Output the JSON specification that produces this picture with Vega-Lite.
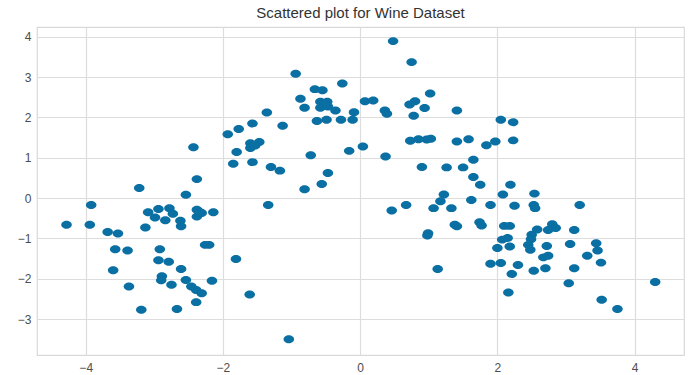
{
  "$schema": "https://vega.github.io/schema/vega-lite/v6.json",
  "autosize": {"type": "none"},
  "padding": {"left": 37, "top": 27, "right": 5, "bottom": 20},
  "width": 647,
  "height": 328,
  "background": "white",
  "title": {"text": "Scattered plot for Wine Dataset", "font": "Liberation Sans", "fontSize": 15, "fontWeight": "normal", "color": "#333333", "anchor": "middle", "offset": 6},
  "config": {
    "view": {"stroke": "#d9d9d9", "strokeWidth": 1.2},
    "axis": {"grid": true, "gridColor": "#dddddd", "gridWidth": 1.2, "domain": false, "ticks": false, "labelFont": "Liberation Sans", "labelFontSize": 12, "labelColor": "#4d4d4d", "title": null}
  },
  "data": {"values": [
    {"pc1": -4.28, "pc2": -0.66}, {"pc1": -3.92, "pc2": -0.17}, {"pc1": -3.94, "pc2": -0.66}, {"pc1": -3.68, "pc2": -0.84},
    {"pc1": -3.53, "pc2": -0.88}, {"pc1": -3.22, "pc2": 0.25}, {"pc1": -2.54, "pc2": 0.08}, {"pc1": -2.38, "pc2": 0.47},
    {"pc1": -3.09, "pc2": -0.35}, {"pc1": -2.94, "pc2": -0.27}, {"pc1": -2.99, "pc2": -0.48}, {"pc1": -2.84, "pc2": -0.55},
    {"pc1": -2.78, "pc2": -0.25}, {"pc1": -2.73, "pc2": -0.39}, {"pc1": -2.62, "pc2": -0.56}, {"pc1": -2.61, "pc2": -0.70},
    {"pc1": -3.13, "pc2": -0.73}, {"pc1": -2.38, "pc2": -0.29}, {"pc1": -2.38, "pc2": -0.46}, {"pc1": -2.31, "pc2": -0.37},
    {"pc1": -2.14, "pc2": -0.35}, {"pc1": -2.35, "pc2": -0.33}, {"pc1": -3.57, "pc2": -1.27}, {"pc1": -3.39, "pc2": -1.30},
    {"pc1": -2.92, "pc2": -1.27}, {"pc1": -2.94, "pc2": -1.54}, {"pc1": -2.79, "pc2": -1.58}, {"pc1": -2.61, "pc2": -1.76},
    {"pc1": -3.60, "pc2": -1.79}, {"pc1": -2.89, "pc2": -1.94}, {"pc1": -2.90, "pc2": -2.04}, {"pc1": -2.75, "pc2": -2.15},
    {"pc1": -2.54, "pc2": -2.03}, {"pc1": -2.46, "pc2": -2.19}, {"pc1": -2.39, "pc2": -2.28}, {"pc1": -2.31, "pc2": -2.36},
    {"pc1": -2.16, "pc2": -2.05}, {"pc1": -3.37, "pc2": -2.19}, {"pc1": -2.39, "pc2": -2.58}, {"pc1": -3.19, "pc2": -2.77},
    {"pc1": -2.67, "pc2": -2.75}, {"pc1": -2.26, "pc2": -1.16}, {"pc1": -2.20, "pc2": -1.16}, {"pc1": -1.81, "pc2": -1.51},
    {"pc1": -1.61, "pc2": -2.39}, {"pc1": -1.04, "pc2": -3.50}, {"pc1": -1.34, "pc2": -0.17}, {"pc1": -0.81, "pc2": 0.22},
    {"pc1": -0.56, "pc2": 0.35}, {"pc1": -0.47, "pc2": 0.62}, {"pc1": 0.46, "pc2": -0.31}, {"pc1": 0.67, "pc2": -0.17},
    {"pc1": -0.94, "pc2": 3.08}, {"pc1": -0.26, "pc2": 2.84}, {"pc1": -0.66, "pc2": 2.70}, {"pc1": -0.55, "pc2": 2.67},
    {"pc1": -0.87, "pc2": 2.46}, {"pc1": -0.81, "pc2": 2.24}, {"pc1": -0.58, "pc2": 2.39}, {"pc1": -0.48, "pc2": 2.39},
    {"pc1": -0.58, "pc2": 2.24}, {"pc1": -0.47, "pc2": 2.27}, {"pc1": -0.52, "pc2": 2.32}, {"pc1": -0.36, "pc2": 2.17},
    {"pc1": -0.09, "pc2": 2.13}, {"pc1": -1.36, "pc2": 2.12}, {"pc1": -0.63, "pc2": 1.91}, {"pc1": -0.49, "pc2": 1.94},
    {"pc1": -0.28, "pc2": 1.94}, {"pc1": -0.11, "pc2": 1.94}, {"pc1": -1.57, "pc2": 1.85}, {"pc1": -1.77, "pc2": 1.71},
    {"pc1": -1.93, "pc2": 1.58}, {"pc1": -1.13, "pc2": 1.79}, {"pc1": -2.43, "pc2": 1.26}, {"pc1": -1.60, "pc2": 1.36},
    {"pc1": -1.47, "pc2": 1.39}, {"pc1": -1.60, "pc2": 1.24}, {"pc1": -1.53, "pc2": 1.30}, {"pc1": -1.80, "pc2": 1.14},
    {"pc1": -0.72, "pc2": 1.06}, {"pc1": -0.16, "pc2": 1.17}, {"pc1": 0.04, "pc2": 1.28}, {"pc1": -1.85, "pc2": 0.85},
    {"pc1": -1.57, "pc2": 0.89}, {"pc1": -1.30, "pc2": 0.77}, {"pc1": -1.17, "pc2": 0.68}, {"pc1": 0.48, "pc2": 3.89},
    {"pc1": 0.75, "pc2": 3.37}, {"pc1": 1.02, "pc2": 2.59}, {"pc1": 0.80, "pc2": 2.40}, {"pc1": 0.72, "pc2": 2.32},
    {"pc1": 0.94, "pc2": 2.23}, {"pc1": 0.78, "pc2": 2.04}, {"pc1": 0.07, "pc2": 2.40}, {"pc1": 0.19, "pc2": 2.42},
    {"pc1": 0.36, "pc2": 2.17}, {"pc1": 0.39, "pc2": 2.09}, {"pc1": 1.41, "pc2": 2.17}, {"pc1": 2.05, "pc2": 1.94},
    {"pc1": 2.23, "pc2": 1.88}, {"pc1": 0.73, "pc2": 1.42}, {"pc1": 0.85, "pc2": 1.46}, {"pc1": 0.97, "pc2": 1.45},
    {"pc1": 1.03, "pc2": 1.47}, {"pc1": 1.41, "pc2": 1.40}, {"pc1": 1.58, "pc2": 1.46}, {"pc1": 1.84, "pc2": 1.31},
    {"pc1": 1.97, "pc2": 1.40}, {"pc1": 2.23, "pc2": 1.43}, {"pc1": 0.37, "pc2": 1.03}, {"pc1": 0.90, "pc2": 0.77},
    {"pc1": 1.65, "pc2": 0.95}, {"pc1": 1.26, "pc2": 0.76}, {"pc1": 1.50, "pc2": 0.76}, {"pc1": 1.65, "pc2": 0.52},
    {"pc1": 1.75, "pc2": 0.33}, {"pc1": 2.19, "pc2": 0.33}, {"pc1": 1.22, "pc2": 0.09}, {"pc1": 2.08, "pc2": 0.09},
    {"pc1": 2.54, "pc2": 0.11}, {"pc1": 1.17, "pc2": -0.08}, {"pc1": 1.07, "pc2": -0.25}, {"pc1": 1.33, "pc2": -0.25},
    {"pc1": 1.62, "pc2": -0.05}, {"pc1": 1.90, "pc2": -0.17}, {"pc1": 2.25, "pc2": -0.19}, {"pc1": 2.53, "pc2": -0.17},
    {"pc1": 2.55, "pc2": -0.25}, {"pc1": 3.20, "pc2": -0.17}, {"pc1": 1.38, "pc2": -0.66}, {"pc1": 1.41, "pc2": -0.70},
    {"pc1": 1.74, "pc2": -0.60}, {"pc1": 1.77, "pc2": -0.68}, {"pc1": 2.10, "pc2": -0.69}, {"pc1": 2.18, "pc2": -0.69},
    {"pc1": 2.58, "pc2": -0.78}, {"pc1": 2.80, "pc2": -0.65}, {"pc1": 2.85, "pc2": -0.74}, {"pc1": 2.74, "pc2": -0.79},
    {"pc1": 3.12, "pc2": -0.79}, {"pc1": 2.50, "pc2": -0.91}, {"pc1": 2.49, "pc2": -1.02}, {"pc1": 2.45, "pc2": -1.16},
    {"pc1": 2.48, "pc2": -1.28}, {"pc1": 2.07, "pc2": -1.03}, {"pc1": 2.15, "pc2": -0.99}, {"pc1": 2.18, "pc2": -1.20},
    {"pc1": 2.00, "pc2": -1.24}, {"pc1": 2.72, "pc2": -1.19}, {"pc1": 3.06, "pc2": -1.14}, {"pc1": 3.44, "pc2": -1.12},
    {"pc1": 3.46, "pc2": -1.30}, {"pc1": 3.31, "pc2": -1.43}, {"pc1": 2.67, "pc2": -1.47}, {"pc1": 2.74, "pc2": -1.43},
    {"pc1": 3.51, "pc2": -1.60}, {"pc1": 1.90, "pc2": -1.63}, {"pc1": 2.05, "pc2": -1.61}, {"pc1": 2.30, "pc2": -1.66},
    {"pc1": 2.21, "pc2": -1.88}, {"pc1": 2.53, "pc2": -1.80}, {"pc1": 2.70, "pc2": -1.74}, {"pc1": 3.12, "pc2": -1.74},
    {"pc1": 3.04, "pc2": -2.11}, {"pc1": 2.16, "pc2": -2.34}, {"pc1": 3.52, "pc2": -2.52}, {"pc1": 3.75, "pc2": -2.75},
    {"pc1": 4.30, "pc2": -2.08}, {"pc1": 0.99, "pc2": -0.87}, {"pc1": 0.98, "pc2": -0.93}, {"pc1": 1.13, "pc2": -1.76}
  ]},
  "mark": {"type": "point", "filled": true, "opacity": 1, "color": "#0a6fa2", "size": 112, "shape": "M -1 0 A 1 0.75 0 1 0 1 0 A 1 0.75 0 1 0 -1 0 Z"},
  "encoding": {
    "x": {"field": "pc1", "type": "quantitative", "scale": {"domain": [-4.71, 4.72], "nice": false, "zero": false}, "axis": {"values": [-4, -2, 0, 2, 4], "format": "d", "labelPadding": 7}},
    "y": {"field": "pc2", "type": "quantitative", "scale": {"domain": [-3.89, 4.24], "nice": false, "zero": false}, "axis": {"values": [-3, -2, -1, 0, 1, 2, 3, 4], "format": "d", "labelPadding": 6}}
  }
}
